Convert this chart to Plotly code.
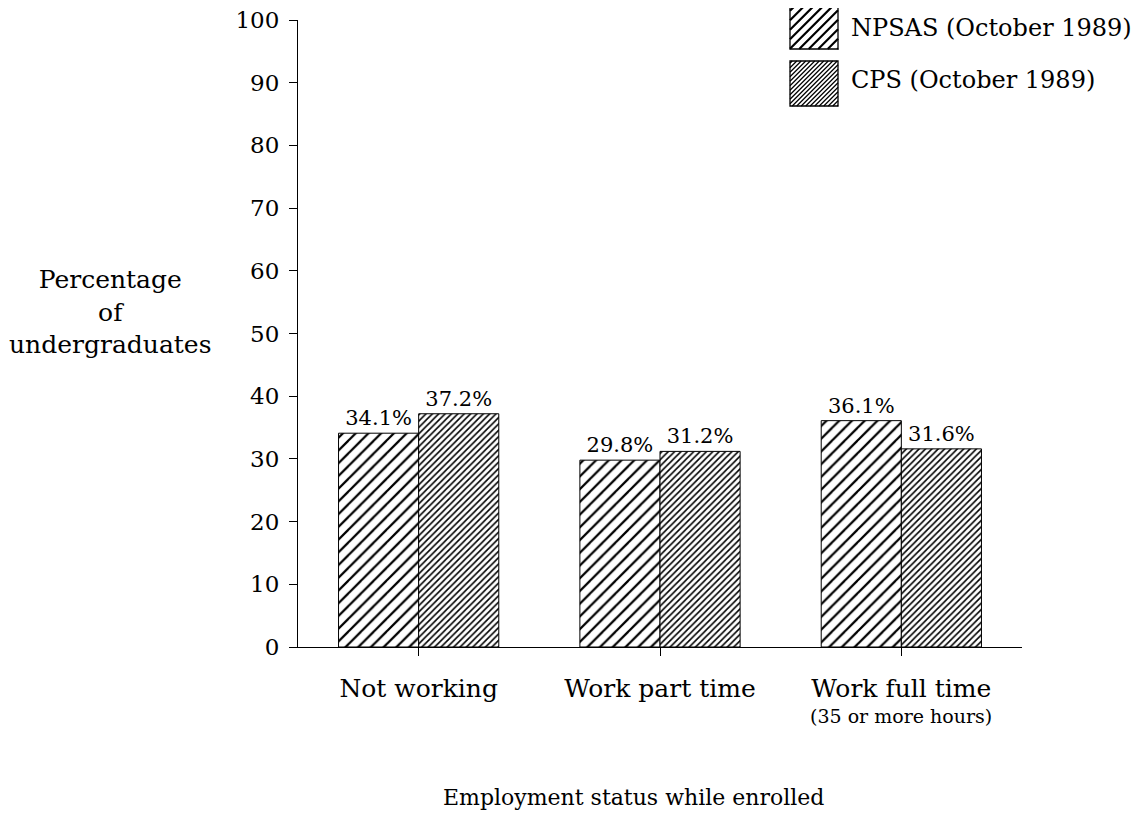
import plotly.graph_objects as go

categories = ["Not working", "Work part time", "Work full time"]
sub_label = "(35 or more hours)"
npsas = [34.1, 29.8, 36.1]
cps = [37.2, 31.2, 31.6]
series_names = ["NPSAS (October 1989)", "CPS (October 1989)"]
y_ticks = list(range(0, 101, 10))

FONT = "DejaVu Serif, Liberation Serif, serif"

# figure geometry (page has an 8px body margin)
W, H = 1140, 817
L, R, T, B = 290, 126, 12, 178
PW, PH = W - L - R, H - T - B


def px2paper(fx, fy):
    return (fx - L) / PW, (H - B - fy) / PH


def hatch_shapes(x0, y0, w, h, spacing, lw):
    segs = []
    c = spacing / 2
    while c < w + h:
        ax, ay = max(0, c - h), min(h, c)
        bx, by = min(w, c), max(0, c - w)
        if ax < w and by < h:
            p1 = px2paper(x0 + ax, y0 + ay)
            p2 = px2paper(x0 + bx, y0 + by)
            segs.append(f"M{p1[0]:.5f},{p1[1]:.5f} L{p2[0]:.5f},{p2[1]:.5f}")
        c += spacing
    a = px2paper(x0, y0)
    b = px2paper(x0 + w, y0 + h)
    return [
        dict(type="path", xref="paper", yref="paper", path=" ".join(segs),
             line=dict(color="black", width=lw)),
        dict(type="rect", xref="paper", yref="paper", x0=a[0], y0=b[1], x1=b[0], y1=a[1],
             line=dict(color="black", width=1.3), fillcolor="rgba(0,0,0,0)"),
    ]


fig = go.Figure()
fig.add_trace(go.Bar(
    x=categories, y=npsas, name=series_names[0],
    text=[f"{v:.1f}%" for v in npsas], textposition="outside",
    textfont=dict(size=21, color="black", family=FONT), cliponaxis=False,
    marker=dict(color="white", line=dict(color="black", width=1),
                pattern=dict(shape="/", fgcolor="black", bgcolor="white",
                             size=9, solidity=0.25, fillmode="replace")),
))
fig.add_trace(go.Bar(
    x=categories, y=cps, name=series_names[1],
    text=[f"{v:.1f}%" for v in cps], textposition="outside",
    textfont=dict(size=21, color="black", family=FONT), cliponaxis=False,
    marker=dict(color="white", line=dict(color="black", width=1),
                pattern=dict(shape="/", fgcolor="black", bgcolor="white",
                             size=4.5, solidity=0.35, fillmode="replace")),
))

shapes = []
shapes += hatch_shapes(782, -2, 48, 43, 9.5, 2.2)
shapes += hatch_shapes(782, 53, 48, 45, 4.5, 1.2)

lx1, ly1 = px2paper(841, 20)
lx2, ly2 = px2paper(841, 72)
sx, sy = px2paper(0, 708)
ax_, ay_ = px2paper(102, 304)
tx, ty = px2paper(625, 789)

fig.update_layout(
    width=W, height=H,
    paper_bgcolor="white", plot_bgcolor="white",
    margin=dict(l=L, r=R, t=T, b=B, autoexpand=False),
    barmode="group", bargap=0.336, bargroupgap=0,
    font=dict(family=FONT, color="black", size=22),
    showlegend=False,
    xaxis=dict(tickmode="array", tickvals=categories, ticktext=categories,
               showline=True, linecolor="black", linewidth=1, automargin=False,
               ticks="outside", ticklen=8, tickcolor="black", ticklabelstandoff=11,
               showgrid=False, tickfont=dict(size=25, family=FONT)),
    yaxis=dict(range=[0, 100], tickvals=y_ticks, automargin=False,
               showline=True, linecolor="black", linewidth=1,
               ticks="outside", ticklen=8, tickcolor="black", ticklabelstandoff=5,
               ticklabeloverflow="allow",
               showgrid=False, zeroline=False, tickfont=dict(size=23, family=FONT)),
    shapes=shapes,
    annotations=[
        dict(text=series_names[0], xref="paper", yref="paper", x=lx1, y=ly1,
             xanchor="left", yanchor="middle", showarrow=False,
             font=dict(size=24, family=FONT)),
        dict(text=series_names[1], xref="paper", yref="paper", x=lx2, y=ly2,
             xanchor="left", yanchor="middle", showarrow=False,
             font=dict(size=24, family=FONT)),
        dict(text=sub_label, xref="x", yref="paper", x=categories[2], y=sy,
             xanchor="center", yanchor="middle", showarrow=False,
             font=dict(size=19, family=FONT)),
        dict(text="Percentage<br>of<br>undergraduates", xref="paper", yref="paper",
             x=ax_, y=ay_, xanchor="center", yanchor="middle", showarrow=False,
             align="center", font=dict(size=25, family=FONT)),
        dict(text="Employment status while enrolled", xref="paper", yref="paper",
             x=tx, y=ty, xanchor="center", yanchor="middle", showarrow=False,
             font=dict(size=22, family=FONT)),
    ],
)

fig.write_html("out.html")
